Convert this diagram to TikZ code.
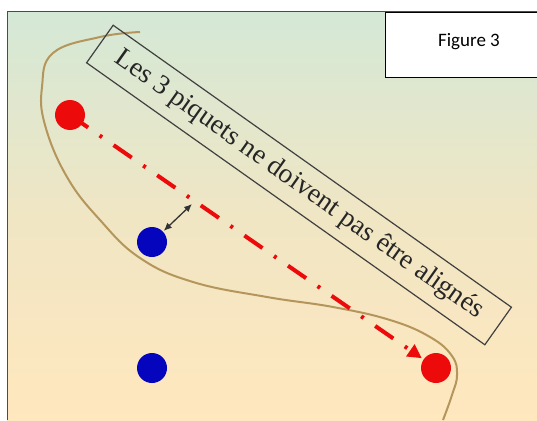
\documentclass[tikz,border=0pt]{standalone}
\usepackage{fontspec}
\setmainfont{Liberation Serif}
\newfontfamily\figfont{Carlito}
\usetikzlibrary{arrows.meta}
\definecolor{fondhaut}{RGB}{212,232,214}
\definecolor{fondmil}{RGB}{240,230,196}
\definecolor{fondbas}{RGB}{255,231,190}
\definecolor{corde}{RGB}{180,150,92}
\definecolor{rouge}{RGB}{236,10,10}
\definecolor{bleu}{RGB}{5,5,190}
\tikzset{
  piquet/.style={circle, inner sep=0pt, minimum size=30pt},
  ligne/.style={rouge, line width=4pt, dash pattern=on 22pt off 14pt on 3pt off 14pt, -{Triangle[length=14pt,width=14pt]}},
  cote/.style={black!80, line width=1.3pt, {Latex[length=8pt,width=7pt]}-{Latex[length=8pt,width=7pt]}},
  cadre/.style={draw=black!75, line width=1.2pt, minimum width=488pt, minimum height=46pt, inner sep=0pt}
}
\begin{document}
\begin{tikzpicture}[x=1pt, y=-1pt]
			\useasboundingbox (0,0) rectangle (537,420);
			% Fond
			\shade[top color=fondhaut, bottom color=fondbas, middle color=fondmil] (7,12) rectangle (537,420);
			\draw[black!70, line width=1pt] (7,420) -- (7,12) -- (537,12);
			
			% Etiquette
			\node[draw=black, line width=1pt, fill=white, minimum width=153pt, minimum height=65pt, anchor=north west] (etiquette) at (385,12) {};
			\node[font=\figfont\fontsize{19}{22}\selectfont] (titre) at (469,42) {Figure 3};
			
			% Corde
			\draw[corde, line width=2pt] plot[smooth, tension=0.7] coordinates {(140,32) (100,37) (53,53) (42,87) (45,125) (67,177) (100,220) (140,258) (193,282) (267,297) (333,307) (390,320) (430,337) (452,356) (457,375) (452,395) (443,420)};
			
			% Texte
			\node[cadre, rotate=-35.3, text=black!85, font=\fontsize{27.5}{30}\selectfont] (texte) at (299,185) {Les 3 piquets ne doivent pas être alignés};
			
			% Piquets
			\node[piquet, fill=rouge] (piquetA) at (70,115) {};
			\node[piquet, fill=bleu] (piquetB) at (152,242) {};
			\node[piquet, fill=bleu] (piquetC) at (152,368) {};
			\node[piquet, fill=rouge] (piquetD) at (436,368) {};
			
			\draw[ligne, shorten >=2pt] (piquetA.center) -- (piquetD);
			\coordinate (pied) at (192,204);
			\draw[cote, shorten <=1pt] (piquetB) -- (pied);
		\end{tikzpicture}
\end{document}
